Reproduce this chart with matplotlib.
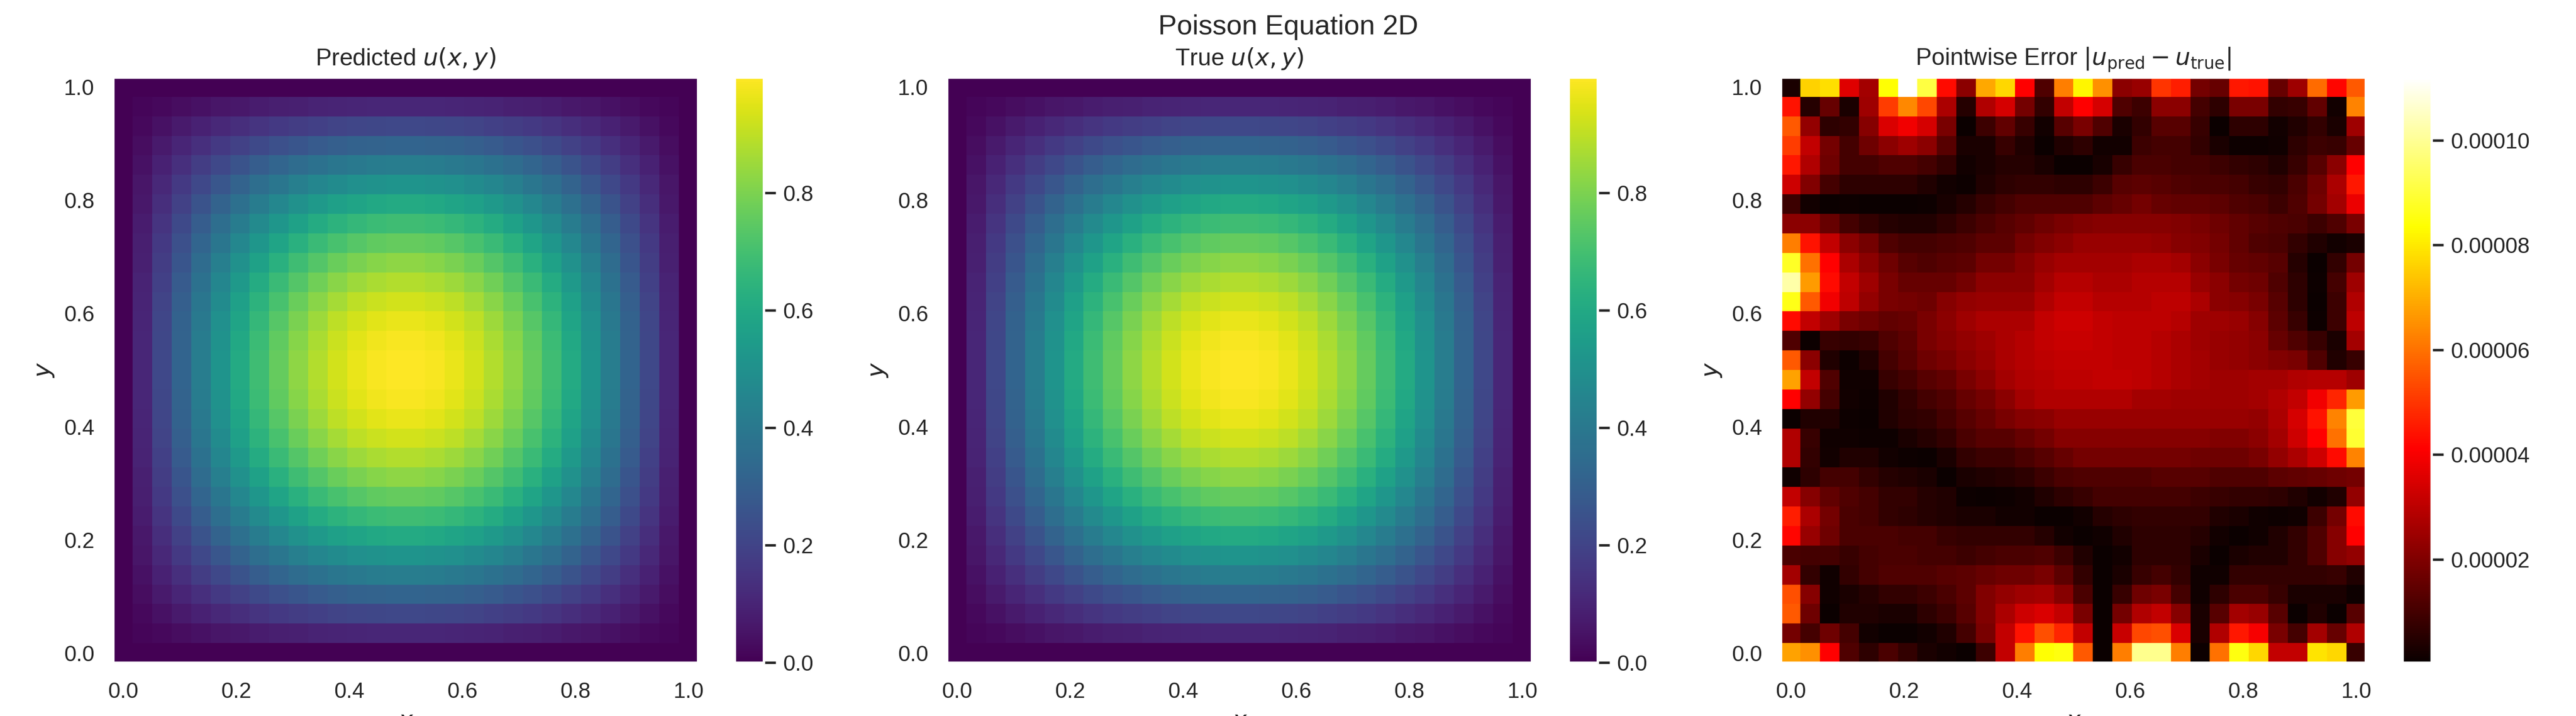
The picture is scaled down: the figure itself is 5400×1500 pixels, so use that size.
import numpy as np
import matplotlib
matplotlib.use('Agg')
import matplotlib.pyplot as plt
import seaborn as sns

sns.set_theme()
plt.rcParams['font.family'] = ['Liberation Sans', 'DejaVu Sans']

# one quarter of the field, the picture is symmetric in x and y
# predicted and true look the same at this scale so both use this table
u_quarter = [
    [0, 0, 0, 0, 0, 0, 0, 0, 0, 0, 0, 0, 0, 0, 0],
    [0, .012, .023, .034, .045, .056, .065, .074, .082, .089, .095, .100, .104, .107, .108],
    [0, .023, .046, .069, .090, .111, .130, .148, .164, .178, .190, .200, .207, .212, .215],
    [0, .034, .069, .102, .134, .165, .193, .219, .243, .264, .282, .296, .308, .315, .319],
    [0, .045, .090, .134, .176, .217, .254, .289, .320, .348, .371, .390, .405, .415, .419],
    [0, .056, .111, .165, .217, .266, .312, .355, .393, .427, .456, .479, .497, .509, .515],
    [0, .065, .130, .193, .254, .312, .366, .416, .461, .501, .535, .562, .583, .597, .604],
    [0, .074, .148, .219, .289, .355, .416, .473, .524, .570, .608, .639, .663, .679, .687],
    [0, .082, .164, .243, .320, .393, .461, .524, .581, .631, .674, .708, .735, .752, .761],
    [0, .089, .178, .264, .348, .427, .501, .570, .631, .686, .732, .769, .798, .817, .827],
    [0, .095, .190, .282, .371, .456, .535, .608, .674, .732, .781, .821, .852, .872, .883],
    [0, .100, .200, .296, .390, .479, .562, .639, .708, .769, .821, .863, .896, .917, .928],
    [0, .104, .207, .308, .405, .497, .583, .663, .735, .798, .852, .896, .929, .951, .963],
    [0, .107, .212, .315, .415, .509, .597, .679, .752, .817, .872, .917, .951, .974, .986],
    [0, .108, .215, .319, .419, .515, .604, .687, .761, .827, .883, .928, .963, .986, .997],
]

# pointwise error in units of 1e-5, first row is y = 1.0
error_rows = [
    [.3, 7.6, 7.8, 3.6, 2.6, 8.4, 11.2, 9.1, 4.3, 2.2, 6.9, 7.7, 4.1, 1.2, 6.2, 8.2, 6.5, 2.2, 2.4, 5.0, 4.6, 1.8, 1.6, 4.5, 4.4, 1.6, 2.5, 5.9, 4.2, 5.6],
    [4.4, .5, 1.6, .3, 2.5, 5.1, 6.4, 5.3, 2.7, .5, 2.8, 3.4, 1.8, .7, 3.1, 4.1, 3.4, 1.2, .9, 2.2, 2.2, 1.0, .6, 1.9, 1.9, .7, .8, 1.5, .2, 6.3],
    [5.6, 2.3, .6, .7, 2.1, 3.5, 3.9, 3.4, 1.9, .05, .9, 1.5, .8, .2, 1.3, 1.9, 1.2, .3, .7, 1.3, 1.3, .8, .05, .6, .6, .2, .4, .7, .3, 2.5],
    [5.1, 3.1, 1.8, 1.0, 1.7, 2.2, 2.5, 2.2, 1.3, .3, .3, .8, .4, .05, .4, .6, .2, .2, .9, 1.0, 1.0, .7, .3, .08, .08, .15, .6, .9, .8, 1.6],
    [4.5, 2.8, 1.7, 1.0, 1.0, 1.2, 1.2, 1.0, .7, .2, .3, .5, .5, .3, .05, .05, .25, .8, 1.1, 1.1, 1.0, 1.0, .9, .7, .6, .4, .8, 1.3, 2.2, 4.1],
    [3.3, 2.0, 1.0, .6, .6, .6, .6, .4, .2, .1, .4, .6, .7, .7, .6, .6, .9, 1.3, 1.4, 1.3, 1.2, 1.1, 1.1, 1.0, .8, .7, 1.1, 1.7, 2.7, 4.5],
    [.9, .2, .05, .08, .05, .05, .05, .08, .25, .5, .8, 1.0, 1.2, 1.2, 1.2, 1.2, 1.4, 1.6, 1.8, 1.6, 1.5, 1.5, 1.4, 1.2, 1.1, .9, 1.2, 1.8, 2.6, 3.8],
    [2.2, 2.2, 1.6, 1.0, .7, .5, .4, .4, .6, .9, 1.1, 1.3, 1.5, 1.7, 1.9, 2.0, 2.1, 2.1, 2.1, 2.1, 2.0, 1.9, 1.7, 1.5, 1.3, 1.2, 1.1, .9, 1.2, 1.9],
    [6.2, 4.4, 3.1, 2.2, 1.8, 1.2, 1.0, 1.0, 1.1, 1.2, 1.4, 1.4, 1.8, 2.0, 2.2, 2.4, 2.4, 2.4, 2.4, 2.3, 2.1, 2.0, 1.8, 1.5, 1.2, 1.1, .7, .4, .2, .3],
    [8.8, 6.0, 4.1, 2.7, 2.2, 1.7, 1.3, 1.2, 1.3, 1.4, 1.8, 1.8, 2.1, 2.4, 2.6, 2.6, 2.6, 2.6, 2.7, 2.7, 2.6, 2.2, 1.9, 1.6, 1.5, 1.3, .5, .05, .7, 1.8],
    [10.2, 6.7, 4.3, 3.1, 2.5, 1.9, 1.6, 1.6, 1.6, 1.8, 2.2, 2.2, 2.2, 2.6, 2.9, 2.9, 2.7, 2.7, 2.9, 2.9, 2.9, 2.4, 2.2, 1.8, 1.7, 1.2, .6, .1, 1.0, 2.5],
    [8.6, 5.6, 3.9, 3.0, 2.3, 1.9, 1.8, 1.7, 2.1, 2.3, 2.4, 2.4, 2.4, 2.8, 3.1, 3.1, 2.9, 2.9, 2.9, 3.0, 3.0, 2.7, 2.2, 2.1, 1.9, 1.3, .6, .03, .9, 2.8],
    [4.3, 3.1, 2.5, 1.9, 1.7, 1.5, 1.6, 1.9, 2.2, 2.5, 2.7, 2.7, 2.7, 3.1, 3.3, 3.3, 3.1, 3.0, 3.0, 3.0, 2.9, 2.5, 2.5, 2.4, 2.1, 1.4, .8, .1, .9, 3.0],
    [1.2, .1, .8, .7, .8, 1.2, 1.4, 1.9, 2.1, 2.3, 2.5, 2.7, 2.9, 3.1, 3.2, 3.2, 3.1, 3.0, 3.0, 2.9, 2.7, 2.5, 2.4, 2.3, 2.2, 1.6, 1.2, .8, .3, 2.6],
    [5.6, 2.2, .4, .1, .4, 1.0, 1.3, 1.7, 1.9, 2.2, 2.4, 2.7, 2.9, 3.0, 3.1, 3.1, 3.1, 3.0, 3.0, 2.9, 2.7, 2.6, 2.4, 2.3, 2.2, 2.0, 1.9, 1.2, .4, .8],
    [6.8, 3.1, 1.2, .15, .15, .8, 1.0, 1.3, 1.5, 1.9, 2.2, 2.6, 2.8, 2.9, 3.0, 3.0, 3.1, 3.1, 3.0, 2.9, 2.7, 2.6, 2.5, 2.5, 2.6, 2.6, 2.8, 2.9, 2.9, 2.5],
    [4.1, 2.3, 1.0, .2, .1, .4, .7, 1.0, 1.2, 1.6, 1.8, 2.2, 2.6, 2.8, 2.8, 2.8, 2.8, 2.8, 2.6, 2.6, 2.5, 2.5, 2.5, 2.5, 2.6, 2.8, 3.1, 3.9, 4.7, 6.7],
    [.05, .4, .4, .1, .05, .4, .6, .7, 1.0, 1.3, 1.6, 1.9, 2.1, 2.2, 2.4, 2.4, 2.4, 2.4, 2.4, 2.4, 2.4, 2.4, 2.4, 2.4, 2.3, 2.7, 3.4, 4.4, 6.3, 9.0],
    [2.8, .8, .15, .15, .1, .1, .3, .5, .7, 1.1, 1.3, 1.3, 1.6, 1.8, 2.1, 2.1, 2.1, 2.1, 2.1, 2.1, 2.1, 2.1, 2.0, 2.0, 2.2, 2.6, 3.3, 4.1, 6.0, 8.9],
    [2.8, .7, .2, .4, .4, .2, .1, .05, .3, .7, .9, .9, 1.1, 1.3, 1.6, 1.8, 1.8, 1.8, 1.8, 1.8, 1.8, 1.7, 1.7, 1.7, 1.9, 2.3, 2.7, 3.3, 4.3, 6.3],
    [.15, .6, 1.0, 1.0, .7, .5, .4, .3, .05, .3, .4, .5, .6, .9, 1.1, 1.2, 1.2, 1.2, 1.2, 1.3, 1.3, 1.3, 1.2, 1.2, 1.2, 1.4, 1.5, 1.6, 1.7, 1.8],
    [3.1, 2.1, 1.5, 1.2, 1.0, .7, .7, .5, .4, .1, .05, .1, .2, .4, .6, .8, 1.0, 1.0, 1.0, 1.0, 1.0, .9, .8, .7, .7, .6, .4, .2, .4, 2.3],
    [4.6, 2.7, 1.8, 1.1, 1.0, .7, .6, .5, .4, .3, .3, .2, .2, .05, .05, .2, .5, .6, .7, .7, .7, .7, .4, .3, .15, .08, .15, .9, 1.8, 4.3],
    [4.2, 2.4, 1.7, 1.1, 1.1, 1.1, 1.0, 1.0, .8, .7, .7, .7, .7, .5, .2, .05, .15, .4, .6, .6, .6, .5, .2, .05, .15, .4, .7, 1.2, 2.1, 4.1],
    [1.1, 1.0, 1.0, .8, 1.0, 1.1, 1.1, 1.0, 1.0, .9, 1.0, 1.1, 1.1, 1.2, .9, .4, .05, .2, .6, .6, .6, .3, .05, .3, .4, .4, .7, 1.2, 2.1, 2.3],
    [2.6, .7, .15, .7, 1.0, 1.2, 1.2, 1.2, 1.3, 1.4, 1.6, 1.7, 1.7, 1.9, 1.4, .7, .05, .3, .8, 1.0, .7, .15, .15, .7, .7, .7, .7, .7, .8, .4],
    [5.4, 2.1, .15, .3, .5, .7, .7, .9, 1.1, 1.4, 2.0, 2.3, 2.5, 2.6, 2.1, 1.1, .05, .8, 1.7, 1.9, 1.0, .15, .6, 1.1, 1.1, .8, .3, .3, .3, .1],
    [5.6, 1.7, .05, .4, .4, .3, .3, .6, .9, 1.3, 2.0, 2.7, 3.3, 3.5, 3.1, 1.9, .05, 1.8, 2.8, 3.1, 2.1, .3, 1.3, 2.6, 2.4, 1.3, .05, .4, .05, 1.3],
    [1.8, 1.0, 1.7, 1.0, .2, .05, .05, .2, .4, 1.0, 1.9, 3.1, 4.4, 5.4, 4.7, 3.1, .05, 3.2, 5.3, 5.4, 3.5, .3, 2.8, 4.5, 4.0, 1.9, 1.0, 2.6, 1.6, 2.8],
    [6.8, 6.5, 4.1, 1.2, .6, 1.1, .7, .3, .2, .05, .9, 3.1, 6.2, 8.4, 8.5, 5.6, .05, 6.2, 9.9, 9.9, 6.2, .1, 6.0, 8.5, 7.7, 3.1, 3.1, 7.9, 7.7, .8],
]

panel_titles = ['Predicted $u(x,y)$', 'True $u(x,y)$',
                r'Pointwise Error $|u_{\mathrm{pred}} - u_{\mathrm{true}}|$']
tick_values = [0.0, 0.2, 0.4, 0.6, 0.8, 1.0]


def main():
    quarter = np.array(u_quarter)
    top = np.hstack([quarter, quarter[:, ::-1]])
    u_field = np.vstack([top, top[::-1]])
    # rows were read top down, the mesh wants y going up
    error_field = np.array(error_rows)[::-1] * 1e-5

    grid = np.linspace(0, 1, u_field.shape[0])
    fields = [u_field, u_field, error_field]
    cmaps = ['viridis', 'viridis', 'hot']
    lefts = [237.4, 1985.4, 3733.4]

    fig = plt.figure(figsize=(18, 5), dpi=300)
    for i in range(3):
        ax = fig.add_axes([lefts[i] / 5400, 112 / 1500, 1226 / 5400, 1226 / 1500])
        mesh = ax.pcolormesh(grid, grid, fields[i], cmap=cmaps[i], shading='auto')
        ax.grid(False)
        ax.set_title(panel_titles[i])
        ax.set_xlabel('$x$')
        ax.set_ylabel('$y$')
        ax.set_xticks(tick_values)
        ax.set_yticks(tick_values)

        cax = fig.add_axes([(lefts[i] + 1303) / 5400, 112 / 1500, 61 / 5400, 1226 / 1500])
        fig.colorbar(mesh, cax=cax)

    fig.suptitle('Poisson Equation 2D', x=0.5, y=0.98, fontsize=14)
    fig.savefig('out.png', dpi=300)


if __name__ == '__main__':
    main()
